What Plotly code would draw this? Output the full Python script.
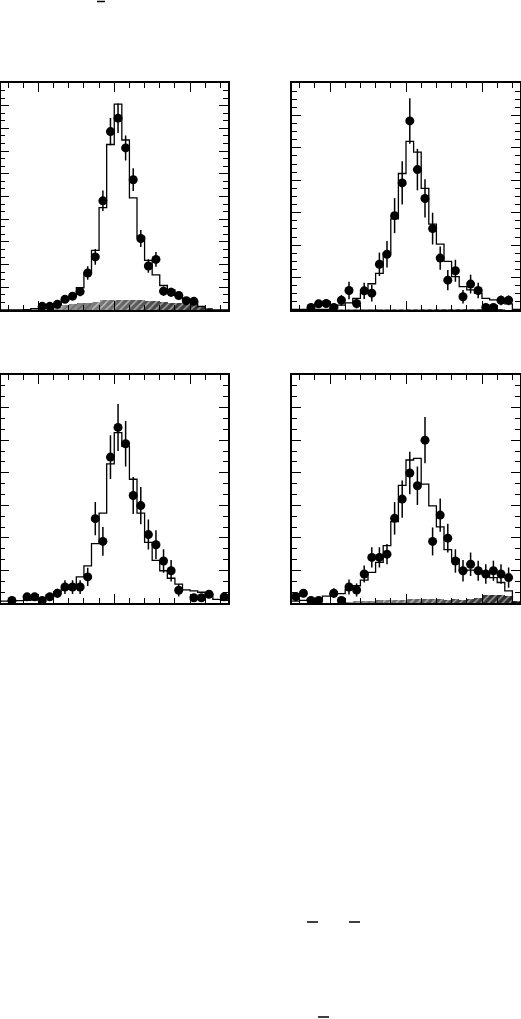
import plotly.graph_objects as go

# ---------------- data ----------------
bin_centers = [-1.45, -1.35, -1.25, -1.15, -1.05, -0.95, -0.85, -0.75, -0.65, -0.55,
               -0.45, -0.35, -0.25, -0.15, -0.05, 0.05, 0.15, 0.25, 0.35, 0.45,
               0.55, 0.65, 0.75, 0.85, 0.95, 1.05, 1.15, 1.25, 1.35, 1.45]
bin_edges = [-1.5, -1.4, -1.3, -1.2, -1.1, -1.0, -0.9, -0.8, -0.7, -0.6, -0.5,
             -0.4, -0.3, -0.2, -0.1, 0.0, 0.1, 0.2, 0.3, 0.4, 0.5,
             0.6, 0.7, 0.8, 0.9, 1.0, 1.1, 1.2, 1.3, 1.4, 1.5]

# Top-left panel
tl_mc = [0.0, 0.0, 0.0, 0.02, 0.06, 0.09, 0.15, 0.24, 0.41, 0.59,
         0.98, 1.63, 2.63, 4.51, 7.29, 9.07, 7.49, 4.94, 3.22, 2.19,
         1.55, 1.08, 0.89, 0.64, 0.49, 0.34, 0.16, 0.0, 0.0, 0.0]
tl_bkg = [0.0, 0.0, 0.0, 0.0, 0.03, 0.05, 0.08, 0.15, 0.2, 0.25,
          0.3, 0.33, 0.37, 0.42, 0.45, 0.46, 0.45, 0.44, 0.42, 0.4,
          0.38, 0.36, 0.33, 0.3, 0.26, 0.2, 0.14, 0.05, 0.0, 0.0]
tl_pt_x = [-0.95, -0.85, -0.75, -0.65, -0.55, -0.45, -0.35, -0.25, -0.15, -0.05,
           0.05, 0.15, 0.25, 0.35, 0.45, 0.55, 0.65, 0.75, 0.85, 0.95, 1.05]
tl_pt_y = [0.16, 0.16, 0.25, 0.47, 0.61, 0.81, 1.63, 2.34, 4.81, 7.86,
           8.45, 7.14, 5.74, 3.15, 1.94, 2.23, 0.83, 0.78, 0.64, 0.41, 0.38]
tl_pt_e = [0.08, 0.08, 0.1, 0.14, 0.16, 0.2, 0.3, 0.35, 0.45, 0.6,
           0.65, 0.55, 0.5, 0.37, 0.3, 0.32, 0.2, 0.2, 0.18, 0.15, 0.14]

# Top-right panel
tr_mc = [0.02, 0.02, 0.02, 0.02, 0.02, 0.06, 0.15, 0.22, 0.36, 0.52,
         0.81, 1.13, 1.76, 2.81, 4.21, 5.2, 4.87, 3.75, 2.65, 2.03,
         1.5, 1.03, 0.72, 0.62, 0.52, 0.36, 0.31, 0.31, 0.19, 0.02]
tr_bkg = [0.0, 0.0, 0.0, 0.0, 0.0, 0.0, 0.01, 0.01, 0.01, 0.02,
          0.02, 0.02, 0.02, 0.02, 0.02, 0.03, 0.03, 0.02, 0.02, 0.02,
          0.02, 0.02, 0.02, 0.02, 0.01, 0.01, 0.01, 0.01, 0.0, 0.0]
tr_pt_x = [-1.25, -1.15, -1.05, -0.95, -0.85, -0.75, -0.65, -0.55, -0.45, -0.35,
           -0.25, -0.15, -0.05, 0.05, 0.15, 0.25, 0.35, 0.45, 0.55, 0.65,
           0.75, 0.85, 0.95, 1.05, 1.15, 1.25, 1.35]
tr_pt_y = [0.08, 0.19, 0.2, 0.08, 0.3, 0.6, 0.2, 0.59, 0.52, 1.41,
           1.72, 2.91, 3.92, 5.83, 4.33, 3.44, 2.51, 1.6, 0.92, 1.21,
           0.41, 0.8, 0.6, 0.08, 0.08, 0.3, 0.3]
tr_pt_e = [0.08, 0.12, 0.12, 0.08, 0.16, 0.27, 0.15, 0.25, 0.26, 0.36,
           0.41, 0.54, 0.67, 0.7, 0.64, 0.59, 0.49, 0.36, 0.31, 0.34,
           0.21, 0.29, 0.24, 0.08, 0.08, 0.15, 0.15]

# Bottom-left panel
bl_mc = [0.06, 0.06, 0.07, 0.08, 0.1, 0.14, 0.25, 0.35, 0.42, 0.55,
         0.8, 1.14, 1.82, 2.76, 4.27, 5.23, 4.81, 3.8, 2.76, 1.86,
         1.31, 0.99, 0.76, 0.58, 0.4, 0.37, 0.33, 0.27, 0.11, 0.08]
bl_bkg = [0.0, 0.0, 0.0, 0.0, 0.0, 0.0, 0.0, 0.0, 0.0, 0.0,
          0.0, 0.0, 0.0, 0.0, 0.0, 0.0, 0.0, 0.0, 0.0, 0.0,
          0.0, 0.0, 0.0, 0.0, 0.0, 0.0, 0.0, 0.0, 0.0, 0.0]
bl_pt_x = [-1.35, -1.15, -1.05, -0.95, -0.85, -0.75, -0.65, -0.55, -0.45, -0.35,
           -0.25, -0.15, -0.05, 0.05, 0.15, 0.25, 0.35, 0.45, 0.55, 0.65,
           0.75, 0.85, 1.05, 1.15, 1.25, 1.45]
bl_pt_y = [0.08, 0.19, 0.19, 0.08, 0.19, 0.3, 0.49, 0.49, 0.49, 0.8,
           2.59, 1.89, 4.48, 5.39, 4.89, 3.3, 2.99, 2.1, 1.79, 1.29,
           0.99, 0.39, 0.16, 0.16, 0.27, 0.19]
bl_pt_e = [0.08, 0.12, 0.12, 0.08, 0.12, 0.14, 0.21, 0.21, 0.21, 0.28,
           0.51, 0.44, 0.67, 0.72, 0.7, 0.57, 0.57, 0.46, 0.44, 0.36,
           0.33, 0.19, 0.1, 0.1, 0.12, 0.1]

# Bottom-right panel
br_mc = [0.06, 0.08, 0.11, 0.13, 0.21, 0.29, 0.29, 0.42, 0.53, 0.7,
         0.94, 1.25, 1.76, 2.5, 3.61, 4.39, 4.44, 3.65, 2.98, 2.34,
         1.64, 1.35, 0.99, 1.01, 0.99, 0.88, 0.78, 0.63, 0.37, 0.0]
br_bkg = [0.0, 0.0, 0.0, 0.0, 0.0, 0.0, 0.0, 0.03, 0.05, 0.06,
          0.07, 0.08, 0.09, 0.1, 0.1, 0.11, 0.11, 0.11, 0.11, 0.12,
          0.1, 0.11, 0.1, 0.12, 0.14, 0.25, 0.26, 0.25, 0.22, 0.05]
br_pt_x = [-1.45, -1.35, -1.25, -1.15, -0.95, -0.85, -0.75, -0.65, -0.55, -0.45,
           -0.35, -0.25, -0.15, -0.05, 0.05, 0.15, 0.25, 0.35, 0.45, 0.55,
           0.65, 0.75, 0.85, 0.95, 1.05, 1.15, 1.25, 1.35]
br_pt_y = [0.2, 0.3, 0.08, 0.08, 0.3, 0.08, 0.49, 0.4, 0.89, 1.4,
           1.4, 1.5, 2.6, 3.19, 3.99, 3.6, 5.0, 1.89, 2.7, 1.99,
           1.29, 0.99, 1.19, 0.99, 0.89, 0.99, 0.89, 0.78]
br_pt_e = [0.12, 0.12, 0.08, 0.08, 0.15, 0.08, 0.23, 0.2, 0.26, 0.31,
           0.31, 0.31, 0.5, 0.57, 0.65, 0.59, 0.71, 0.43, 0.51, 0.44,
           0.36, 0.33, 0.36, 0.31, 0.3, 0.31, 0.3, 0.31]

y_ranges = [10, 7, 7, 7]
y_minor = [1 / 3, 0.25, 1 / 3, 1 / 3]

W, H = 521, 1019
panels = [
    dict(mc=tl_mc, bkg=tl_bkg, px=tl_pt_x, py=tl_pt_y, pe=tl_pt_e,
         xd=[0.5 / W, 228 / W], yd=[1 - 310 / H, 1 - 83 / H]),
    dict(mc=tr_mc, bkg=tr_bkg, px=tr_pt_x, py=tr_pt_y, pe=tr_pt_e,
         xd=[292 / W, 520 / W], yd=[1 - 310 / H, 1 - 83 / H]),
    dict(mc=bl_mc, bkg=bl_bkg, px=bl_pt_x, py=bl_pt_y, pe=bl_pt_e,
         xd=[0.5 / W, 228 / W], yd=[1 - 603 / H, 1 - 375 / H]),
    dict(mc=br_mc, bkg=br_bkg, px=br_pt_x, py=br_pt_y, pe=br_pt_e,
         xd=[292 / W, 520 / W], yd=[1 - 603 / H, 1 - 375 / H]),
]

greys = ["#d8d8d8", "#d0d0d0", "#c8c8c8", "#c0c0c0", "#b8b8b8", "#b0b0b0",
         "#a8a8a8", "#a0a0a0", "#989898", "#909090", "#888888", "#808080",
         "#7a7a7a", "#747474", "#6e6e6e", "#686868", "#626262", "#5c5c5c",
         "#565656", "#505050", "#4a4a4a", "#444444", "#404040", "#3c3c3c",
         "#383838", "#343434", "#303030", "#2c2c2c", "#282828", "#242424"]

fig = go.Figure()
for k, p in enumerate(panels):
    xa = "x" if k == 0 else f"x{k + 1}"
    ya = "y" if k == 0 else f"y{k + 1}"
    # hatched background
    fig.add_trace(go.Bar(
        x=bin_centers, y=p["bkg"], width=0.1, xaxis=xa, yaxis=ya,
        marker=dict(color=greys, line=dict(width=0),
                    pattern=dict(shape="/", fgcolor="#ffffff", size=5, solidity=0.3)),
        showlegend=False, hoverinfo="skip"))
    # MC histogram as a step line
    fig.add_trace(go.Scatter(
        x=bin_edges, y=p["mc"] + [p["mc"][-1]], mode="lines", line_shape="hv",
        line=dict(color="black", width=1.3), xaxis=xa, yaxis=ya,
        showlegend=False, hoverinfo="skip"))
    # data points
    fig.add_trace(go.Scatter(
        x=p["px"], y=p["py"], mode="markers", xaxis=xa, yaxis=ya,
        marker=dict(color="black", size=9, symbol="circle"),
        error_y=dict(type="data", array=p["pe"], color="black", thickness=1.5, width=0),
        showlegend=False))

axis_common = dict(showgrid=False, zeroline=False, showticklabels=False,
                   showline=True, linecolor="black", linewidth=1.5, mirror="allticks",
                   ticks="inside", tickcolor="black", tickwidth=1.2)
layout_axes = {}
for k, p in enumerate(panels):
    xn = "xaxis" if k == 0 else f"xaxis{k + 1}"
    yn = "yaxis" if k == 0 else f"yaxis{k + 1}"
    ya = "y" if k == 0 else f"y{k + 1}"
    xa = "x" if k == 0 else f"x{k + 1}"
    layout_axes[xn] = dict(axis_common, domain=p["xd"], range=[-1.5, 1.5], anchor=ya,
                           tick0=-1, dtick=1, ticklen=9,
                           minor=dict(dtick=0.2, tick0=0, ticklen=5, ticks="inside",
                                      tickcolor="black", tickwidth=1.2))
    layout_axes[yn] = dict(axis_common, domain=p["yd"], range=[0, y_ranges[k]], anchor=xa,
                           tick0=0, dtick=1, ticklen=9,
                           minor=dict(dtick=y_minor[k], tick0=0, ticklen=5, ticks="inside",
                                      tickcolor="black", tickwidth=1.2))

fig.update_layout(
    width=W, height=H, margin=dict(l=0, r=0, t=0, b=0),
    paper_bgcolor="white", plot_bgcolor="white", barmode="overlay", bargap=0,
    **layout_axes)

# stray overline marks from the source page
for (x0, x1, yy) in [(97, 105, 1.5), (307, 318, 922), (349, 360, 922), (318, 329, 1017)]:
    fig.add_shape(type="line", xref="paper", yref="paper",
                  x0=x0 / W, x1=x1 / W, y0=1 - yy / H, y1=1 - yy / H,
                  line=dict(color="black", width=1.5))

fig.write_html("out.html", config={"displayModeBar": False},
               post_script="document.body.style.margin='0px';")
